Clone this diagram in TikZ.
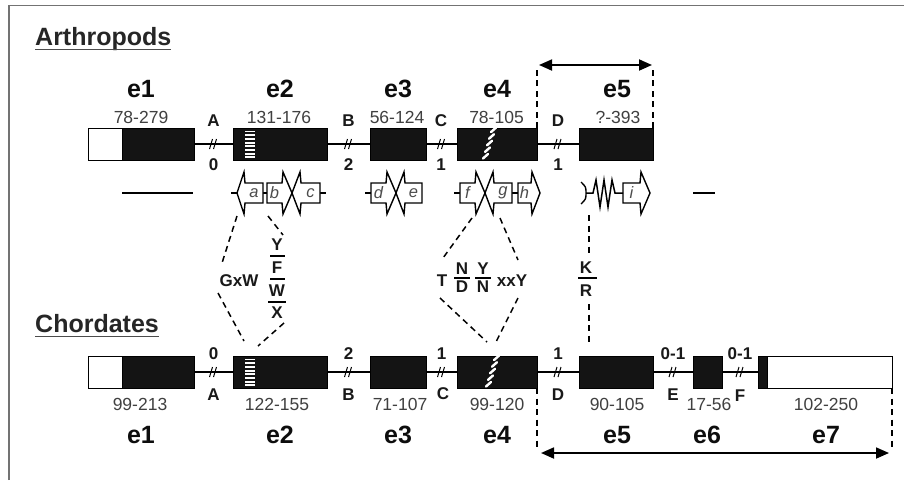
\documentclass[tikz,border=0pt]{standalone}
\usepackage{fontspec}
\setmainfont{Liberation Sans}
\usetikzlibrary{arrows.meta}
\tikzset{
 exon/.style={draw=black, fill=black!92, line width=0.8pt, minimum height=32pt, inner sep=0pt, outer sep=0pt},
 utr/.style={exon, fill=white},
 intr/.style={line width=1.4pt},
 elab/.style={font=\fontsize{25}{25}\selectfont\bfseries, anchor=base, text=black!95, inner sep=0pt},
 rng/.style={font=\fontsize{17.5}{17.5}\selectfont, text=black!75, anchor=base, inner sep=0pt},
 ph/.style={font=\fontsize{17}{17}\selectfont\bfseries, anchor=base, text=black!90, inner sep=0pt},
 aa/.style={font=\fontsize{17}{17}\selectfont\bfseries, text=black!90, inner sep=0pt},
 dom/.style={draw=black, fill=white, line width=1.4pt, line join=miter},
 dlet/.style={font=\fontsize{16.5}{16.5}\selectfont\itshape, text=black!70, inner sep=0pt},
 dsh/.style={dashed, dash pattern=on 6pt off 4.5pt, line width=1.5pt},
 dbl/.style={line width=1.8pt, {Triangle[length=13pt,width=11pt]}-{Triangle[length=13pt,width=11pt]}},
 ttl/.style={font=\fontsize{25}{25}\selectfont\bfseries, anchor=base west, text=black!85, inner sep=0pt},
 hatch/.style={white, line width=2.4pt, line cap=round},
}
\newcommand\domR[4]{\draw[dom] (#1,183) -- (#2,183) -- (#2+1,172) -- (#3,193) -- (#2+1,214) -- (#2,203) -- (#1,203) -- cycle;
 \node[dlet] (dm#4) at ({(#1+#2)/2},193) {#4};}
\newcommand\domL[4]{\draw[dom] (#2,183) -- (#1,183) -- (#1-1,172) -- (#3,193) -- (#1-1,214) -- (#1,203) -- (#2,203) -- cycle;
 \node[dlet] (dm#4) at ({(#1+#2)/2},193) {#4};}
\newcommand\brkmark[1]{\draw[line width=1pt] ([shift={(-4,5)}]#1) -- ([shift={(-1,-5)}]#1) ([shift={(0,5)}]#1) -- ([shift={(3,-5)}]#1);}
\newcommand\stripesE[2]{\foreach \k in {0,...,7} \draw[white, line width=1.9pt] (#1,{#2+3.5+3.7*\k}) -- (#1+10,{#2+3.5+3.7*\k});}
\begin{document}
\begin{tikzpicture}[x=1pt,y=-1pt]
\useasboundingbox (0,0) rectangle (904,480);
\fill[white] (0,0) rectangle (904,480);
\draw[black!55, line width=1.5pt] (9,480) -- (9,5.5) -- (904,5.5);

% titles
\node[ttl] (tA) at (35,45) {Arthropods};
\draw[line width=1.4pt, black!70] ([yshift=-4.5pt]tA.base west) -- ([yshift=-4.5pt]tA.base east);
\node[ttl] (tC) at (35,332) {Chordates};
\draw[line width=1.4pt, black!70] ([yshift=-4.5pt]tC.base west) -- ([yshift=-4.5pt]tC.base east);

% ===== Arthropod gene =====
\node[utr, minimum width=34pt] (ae1u) at (105,144) {};
\node[exon, minimum width=72pt] (ae1) at (158,144) {};
\node[exon, minimum width=94pt] (ae2) at (280,144) {};
\node[exon, minimum width=56pt] (ae3) at (398,144) {};
\node[exon, minimum width=80pt] (ae4) at (497,144) {};
\node[exon, minimum width=74pt] (ae5) at (616,144) {};
\draw[intr] (ae1.east) -- coordinate[midway] (bA) (ae2.west);
\draw[intr] (ae2.east) -- coordinate[midway] (bB) (ae3.west);
\draw[intr] (ae3.east) -- coordinate[midway] (bC) (ae4.west);
\draw[intr] (ae4.east) -- coordinate[midway] (bD) (ae5.west);
\brkmark{bA}\brkmark{bB}\brkmark{bC}\brkmark{bD}
\stripesE{245}{128}
\begin{scope}
\clip (ae4.north west) rectangle (ae4.south east);
\foreach \k in {0,...,4} \draw[hatch] ({483+2*\k},{158.5-6.6*\k}) -- ({488+2*\k},{154-6.6*\k});
\end{scope}

\node[elab] (te1) at (141,97) {e1};
\node[elab] (te2) at (280,97) {e2};
\node[elab] (te3) at (398,97) {e3};
\node[elab] (te4) at (497,97) {e4};
\node[elab] (te5) at (617,97) {e5};
\node[rng] (tr1) at (141,123) {78-279};
\node[rng] (tr2) at (279,123) {131-176};
\node[rng] (tr3) at (397,123) {56-124};
\node[rng] (tr4) at (496.5,123) {78-105};
\node[rng] (tr5) at (618,123) {?-393};
\node[ph] (tA1) at (213.5,126) {A};
\node[ph] (tB1) at (348.5,126) {B};
\node[ph] (tC1) at (441,126) {C};
\node[ph] (tD1) at (558,126) {D};
\node[ph] (tp0) at (213.5,170) {0};
\node[ph] (tp2) at (348.5,170) {2};
\node[ph] (tp1) at (441,170) {1};
\node[ph] (tp1b) at (558,170) {1};

\draw[dsh] (ae4.north east) -- (ae4.north east |- 0,66);
\draw[dsh] (ae5.north east) -- (ae5.north east |- 0,66);
\coordinate (ar1) at (539,65);
\coordinate (ar2) at (652,65);
\draw[dbl] (ar1) -- (ar2);

% ===== domains =====
\draw[line width=1.6pt] (122,193) -- (193,193);
\draw[line width=1.6pt] (693,193) -- (715,193);
\draw[line width=1.4pt] (231,193) -- (237,193);
\draw[line width=1.4pt] (263,193) -- (267,193);
\draw[line width=1.4pt] (320,193) -- (326,193);
\draw[line width=1.4pt] (365,193) -- (371,193);
\draw[line width=1.4pt] (454,193) -- (460,193);
\draw[line width=1.4pt] (512,193) -- (518,193);
\domL{245}{263}{237}{a}
\domR{267}{282}{292}{b}
\domL{301}{320}{292}{c}
\domR{371}{386}{396}{d}
\domL{405}{422}{396}{e}
\domR{460}{475}{485}{f}
\domL{494}{512}{485}{g}
\domR{518}{531}{540}{h}
\domR{623}{640}{650}{i}
\draw[line width=1.4pt] (581,182) .. controls (586,187) .. (586,193) .. controls (586,199) .. (581,204);
\draw[line width=1.5pt, line join=miter] (586,193) -- (593,193) -- (596,180) -- (600,207) -- (604,180) -- (608,207) -- (612,180) -- (615,193) -- (623,193);

% ===== Chordate gene =====
\node[utr, minimum width=34pt] (ce1u) at (105,372) {};
\node[exon, minimum width=72pt] (ce1) at (158,372) {};
\node[exon, minimum width=94pt] (ce2) at (280,372) {};
\node[exon, minimum width=56pt] (ce3) at (398,372) {};
\node[exon, minimum width=80pt] (ce4) at (497,372) {};
\node[exon, minimum width=74pt] (ce5) at (616,372) {};
\node[exon, minimum width=29pt] (ce6) at (707.5,372) {};
\node[exon, minimum width=9pt] (ce7a) at (762.5,372) {};
\node[utr, minimum width=125pt] (ce7) at (829.5,372) {};
\draw[intr] (ce1.east) -- coordinate[midway] (cA) (ce2.west);
\draw[intr] (ce2.east) -- coordinate[midway] (cB) (ce3.west);
\draw[intr] (ce3.east) -- coordinate[midway] (cC) (ce4.west);
\draw[intr] (ce4.east) -- coordinate[midway] (cD) (ce5.west);
\draw[intr] (ce5.east) -- coordinate[midway] (cE) (ce6.west);
\draw[intr] (ce6.east) -- coordinate[midway] (cF) (ce7a.west);
\brkmark{cA}\brkmark{cB}\brkmark{cC}\brkmark{cD}\brkmark{cE}\brkmark{cF}
\stripesE{245}{356}
\begin{scope}
\clip (ce4.north west) rectangle (ce4.south east);
\foreach \k in {0,...,4} \draw[hatch] ({486+2*\k},{386.5-6.6*\k}) -- ({491+2*\k},{382-6.6*\k});
\end{scope}

\node[ph] (bp0) at (213.5,359) {0};
\node[ph] (bp2) at (348.5,359) {2};
\node[ph] (bp1) at (441.5,359) {1};
\node[ph] (bp1b) at (558,359) {1};
\node[ph] (bp01) at (673,359) {0-1};
\node[ph] (bp01b) at (740,359) {0-1};
\node[ph] (bA2) at (213.5,400) {A};
\node[ph] (bB2) at (348.5,400) {B};
\node[ph] (bC2) at (443,399) {C};
\node[ph] (bD2) at (558,400) {D};
\node[ph] (bE2) at (673,400) {E};
\node[ph] (bF2) at (740,401) {F};
\node[rng] (br1) at (140,410) {99-213};
\node[rng] (br2) at (277,410) {122-155};
\node[rng] (br3) at (400,410) {71-107};
\node[rng] (br4) at (497,410) {99-120};
\node[rng] (br5) at (617,410) {90-105};
\node[rng] (br6) at (709,410) {17-56};
\node[rng] (br7) at (826,410) {102-250};
\node[elab] (be1) at (141,443) {e1};
\node[elab] (be2) at (280,443) {e2};
\node[elab] (be3) at (398,443) {e3};
\node[elab] (be4) at (497,443) {e4};
\node[elab] (be5) at (617,443) {e5};
\node[elab] (be6) at (707,443) {e6};
\node[elab] (be7) at (826,443) {e7};

\draw[dsh] (ce4.south east) -- (ce4.south east |- 0,448);
\draw[dsh] (ce7.south east) -- (ce7.south east |- 0,448);
\coordinate (br1a) at (541,453);
\coordinate (br2a) at (889,453);
\draw[dbl] (br1a) -- (br2a);

% ===== homology links =====
\node[aa] (gxw) at (239,281) {GxW};
\draw[dsh] (237,216) -- (222,263);
\draw[dsh] (218,293) -- (244,341);
\node[aa] (sY) at (277,245) {Y};
\node[aa] (sF) at (277,268) {F};
\node[aa] (sW) at (277,291) {W};
\node[aa] (sX) at (277,313) {X};
\draw[line width=1.3pt] (270,256) -- (285,256) (270,279) -- (285,279) (268,302) -- (286,302);
\draw[dsh] (268,216) -- (283,235);
\draw[dsh] (284,323) -- (258,346);

\node[aa] (sT) at (442,281) {T};
\node[aa] (sN1) at (462,269) {N};
\node[aa] (sD) at (462,287) {D};
\draw[line width=1.3pt] (454,278) -- (470,278);
\node[aa] (sY2) at (483,269) {Y};
\node[aa] (sN2) at (483,287) {N};
\draw[line width=1.3pt] (475,278) -- (491,278);
\node[aa] (sxxY) at (512,281) {xxY};
\draw[dsh] (472,218) -- (443,258);
\draw[dsh] (440,298) -- (487,342);
\draw[dsh] (500,218) -- (518,260);
\draw[dsh] (518,298) -- (496,342);

\node[aa] (sK) at (586,268) {K};
\node[aa] (sR) at (586,291) {R};
\draw[line width=1.3pt] (578,278) -- (597,278);
\draw[dsh] (589,215) -- (589,253);
\draw[dsh] (589,304) -- (589,344);
\end{tikzpicture}
\end{document}
